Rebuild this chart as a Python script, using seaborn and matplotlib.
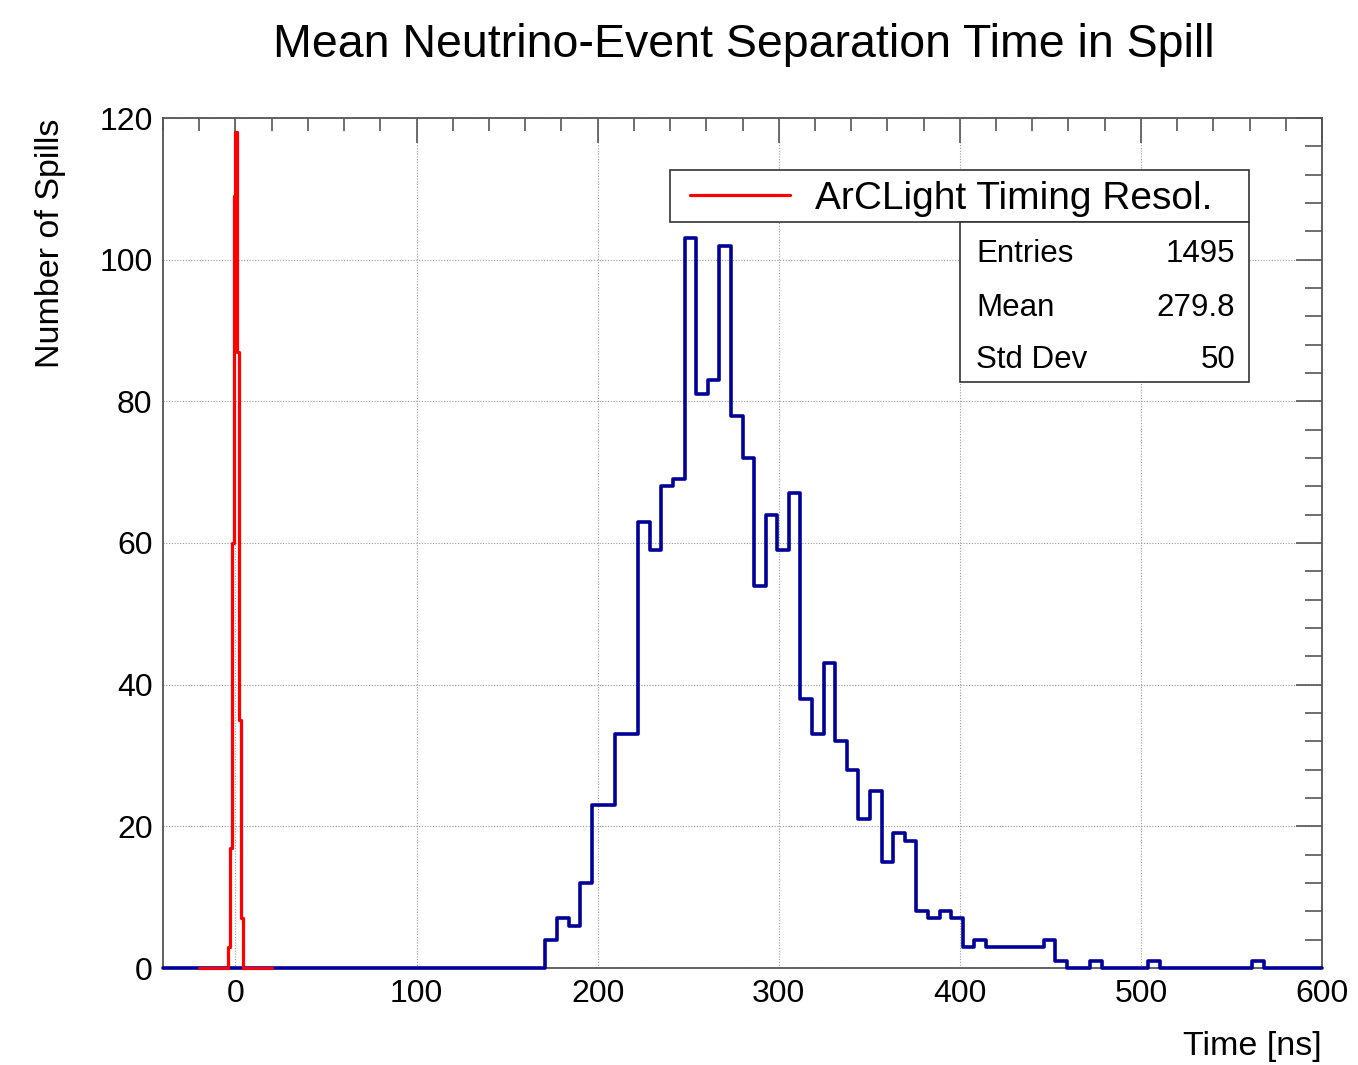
import numpy as np
import pandas as pd
import matplotlib
matplotlib.use("Agg")
import matplotlib.pyplot as plt
from matplotlib.patches import Rectangle
from matplotlib.ticker import MultipleLocator
import seaborn as sns

# blue histogram: 100 bins from -40 to 600 ns
blue_range = (-40, 600)
blue_nbins = 100
blue_counts = [
    0, 0, 0, 0, 0, 0, 0, 0, 0, 0,
    0, 0, 0, 0, 0, 0, 0, 0, 0, 0,
    0, 0, 0, 0, 0, 0, 0, 0, 0, 0,
    0, 0, 0, 4, 7, 6, 12, 23, 23, 33,
    33, 63, 59, 68, 69, 103, 81, 83, 102, 78,
    72, 54, 64, 59, 67, 38, 33, 43, 32, 28,
    21, 25, 15, 19, 18, 8, 7, 8, 7, 3,
    4, 3, 3, 3, 3, 3, 4, 1, 0, 0,
    1, 0, 0, 0, 0, 1, 0, 0, 0, 0,
    0, 0, 0, 0, 1, 0, 0, 0, 0, 0,
]

# red histogram: 40 bins from -20 to 20 ns
red_range = (-20, 20)
red_nbins = 40
red_counts = [
    0, 0, 0, 0, 0, 0, 0, 0, 0, 0,
    0, 0, 0, 0, 0, 0, 3, 17, 60, 109,
    118, 87, 35, 7, 0, 0, 0, 0, 0, 0,
    0, 0, 0, 0, 0, 0, 0, 0, 0, 0,
]

stats_labels = ["Entries", "Mean", "Std Dev"]
stats_values = ["1495", "279.8", "50"]

sns.set_theme(style="white")
plt.rcParams["font.family"] = ["Liberation Sans", "DejaVu Sans"]
plt.rcParams["text.color"] = "black"

W, H = 1358, 1065
fig = plt.figure(figsize=(W / 100, H / 100), dpi=100)
L, R, T, B = 163, 1322, 118, 968
ax = fig.add_axes([L / W, 1 - B / H, (R - L) / W, (B - T) / H])

def ax_x(px):
    return (px - L) / (R - L)

def ax_y(py):
    return (B - py) / (B - T)

blue_edges = np.linspace(*blue_range, blue_nbins + 1)
red_edges = np.linspace(*red_range, red_nbins + 1)
df_blue = pd.DataFrame({"t": (blue_edges[:-1] + blue_edges[1:]) / 2, "n": blue_counts})
df_red = pd.DataFrame({"t": (red_edges[:-1] + red_edges[1:]) / 2, "n": red_counts})

sns.histplot(data=df_blue, x="t", weights="n", bins=list(blue_edges), element="step",
             fill=False, color="#000099", linewidth=2.6, ax=ax)
sns.histplot(data=df_red, x="t", weights="n", bins=list(red_edges), element="step",
             fill=False, color="#ff0000", linewidth=2.3, ax=ax,
             label="ArCLight Timing Resol.")
for ln in ax.lines:
    ln.set_clip_on(False)
    ln.set_zorder(3)

ax.set_xlim(-40, 600)
ax.set_ylim(0, 120)
ax.set_xlabel("")
ax.set_ylabel("")

ax.xaxis.set_major_locator(MultipleLocator(100))
ax.xaxis.set_minor_locator(MultipleLocator(20))
ax.yaxis.set_major_locator(MultipleLocator(20))
ax.yaxis.set_minor_locator(MultipleLocator(4))
ax.tick_params(which="both", direction="in", top=True, right=True, color="#555555",
               width=1.2, labelcolor="black")
ax.tick_params(axis="x", which="major", length=18, pad=8, labelsize=23)
ax.tick_params(axis="x", which="minor", length=9)
ax.tick_params(axis="y", which="major", length=19, pad=7.5, labelsize=23)
ax.tick_params(axis="y", which="minor", length=12)
ax.grid(True, which="major", linestyle=(0, (1, 1.5)), color="#999999", linewidth=0.8)
for s in ax.spines.values():
    s.set_color("#555555")
    s.set_linewidth(1.3)

fig.text(743.5 / W, 1 - 45 / H, "Mean Neutrino-Event Separation Time in Spill",
         ha="center", va="center", fontsize=33.5)
fig.text(50 / W, 1 - 243 / H, "Number of Spills", rotation=90,
         ha="center", va="center", fontsize=24.5)
fig.text(1322 / W, 1 - 1047 / H, "Time [ns]", ha="right", va="center", fontsize=24.5)

# legend: frame drawn as a rectangle, entries from the red histogram
ax.add_patch(Rectangle((ax_x(670), ax_y(222)), ax_x(1249) - ax_x(670), ax_y(170) - ax_y(222),
                       transform=ax.transAxes, facecolor="white", edgecolor="#333333",
                       linewidth=1.2, zorder=5))
leg = ax.legend(loc="center left", bbox_to_anchor=(ax_x(690), ax_y(199)),
                frameon=False, borderpad=0, borderaxespad=0, fontsize=28,
                handlelength=2.57, handletextpad=0.64)
leg.set_zorder(6)

# stats box
ax.add_patch(Rectangle((ax_x(960), ax_y(382)), ax_x(1249) - ax_x(960), ax_y(222) - ax_y(382),
                       transform=ax.transAxes, facecolor="white", edgecolor="#333333",
                       linewidth=1.2, zorder=5))
for lab, val, yp in zip(stats_labels, stats_values, [261.5, 316.5, 368]):
    ax.text(ax_x(976), ax_y(yp), lab, transform=ax.transAxes, ha="left", va="baseline",
            fontsize=22.5, zorder=6)
    ax.text(ax_x(1235), ax_y(yp), val, transform=ax.transAxes, ha="right", va="baseline",
            fontsize=22.5, zorder=6)

fig.savefig("out.png", dpi=100, facecolor="white")
